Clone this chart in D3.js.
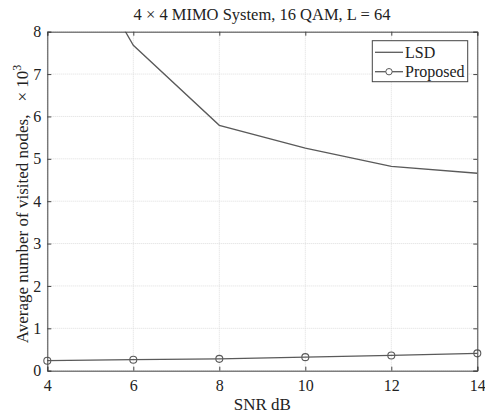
<!DOCTYPE html>
<html><head><meta charset="utf-8">
<script src="https://cdn.jsdelivr.net/npm/d3@7"></script>
<style>body{margin:0;background:#fff}svg{display:block}text{font-family:"Liberation Serif","Times New Roman",serif;fill:#222}</style>
</head><body><svg id="c" width="485" height="414"></svg>
<script>
const snr = [4, 6, 8, 10, 12, 14];
const lsd = [11.2, 7.68, 5.79, 5.25, 4.82, 4.66];
const proposed = [0.236, 0.26, 0.28, 0.32, 0.36, 0.41];
const xTicks = [4, 6, 8, 10, 12, 14];
const yTicks = [0, 1, 2, 3, 4, 5, 6, 7, 8];
const title = "4 \u00d7 4 MIMO System, 16 QAM, L = 64";
const xLabel = "SNR dB";
const yLabel = "Average number of visited nodes,";
const seriesNames = ["LSD", "Proposed"];

const svg = d3.select("#c");
const L = 47.3, R = 477.3, T = 31.7, B = 370.7;
const x = d3.scaleLinear().domain([4, 14]).range([L, R]);
const y = d3.scaleLinear().domain([0, 8]).range([B, T]);
const col = "#5a5a5a";

// grid
const g = svg.append("g");
g.selectAll(".gx").data(xTicks).join("line").attr("x1", d => x(d)).attr("x2", d => x(d))
  .attr("y1", T).attr("y2", B).attr("stroke", "#ddd").attr("stroke-width", 1).attr("stroke-dasharray", "1,1");
g.selectAll(".gy").data(yTicks).join("line").attr("y1", d => y(d)).attr("y2", d => y(d))
  .attr("x1", L).attr("x2", R).attr("stroke", "#ddd").attr("stroke-width", 1).attr("stroke-dasharray", "1,1");

// clip
svg.append("clipPath").attr("id", "clip").append("rect").attr("x", L).attr("y", T).attr("width", R - L).attr("height", B - T);

const line = d3.line().x((d, i) => x(snr[i])).y(d => y(d));
svg.append("path").datum(lsd).attr("d", line).attr("fill", "none").attr("stroke", col).attr("stroke-width", 1.3).attr("clip-path", "url(#clip)");
svg.append("path").datum(proposed).attr("d", line).attr("fill", "none").attr("stroke", col).attr("stroke-width", 1.3);
svg.selectAll(".pm").data(proposed).join("circle").attr("cx", (d, i) => x(snr[i])).attr("cy", d => y(d)).attr("r", 3.5)
  .attr("fill", "none").attr("stroke", col).attr("stroke-width", 1.1);

// axes
svg.append("g").attr("transform", `translate(0,${B})`).call(d3.axisBottom(x).tickValues(xTicks).tickSize(-4).tickPadding(9));
svg.append("g").attr("transform", `translate(${L},0)`).call(d3.axisLeft(y).tickValues(yTicks).tickSize(-4).tickPadding(6));
svg.append("g").attr("transform", `translate(0,${T})`).call(d3.axisTop(x).tickValues(xTicks).tickSize(-4).tickFormat(""));
svg.append("g").attr("transform", `translate(${R},0)`).call(d3.axisRight(y).tickValues(yTicks).tickSize(-4).tickFormat(""));
svg.selectAll(".domain").attr("stroke", "#444").attr("stroke-width", 1);
svg.selectAll(".tick line").attr("stroke", "#444");
svg.selectAll(".tick text").style("font-family", "Liberation Serif").style("font-size", "16px").attr("fill", "#333");

// title
svg.append("text").attr("x", 262).attr("y", 20).attr("text-anchor", "middle").style("font-size", "16.5px").text(title);
svg.append("text").attr("x", x(9)).attr("y", 410).attr("text-anchor", "middle").style("font-size", "17px").text(xLabel);
const yl = svg.append("text").attr("transform", `translate(28,204) rotate(-90)`).attr("text-anchor", "middle").style("font-size", "17px");
yl.append("tspan").text(yLabel);
yl.append("tspan").attr("dx", 13).text("\u00d7 10");
yl.append("tspan").attr("dy", -7).style("font-size", "12px").text("3");

// legend
const lg = svg.append("g");
lg.append("rect").attr("x", 372.3).attr("y", 40.7).attr("width", 95.4).attr("height", 41).attr("fill", "#fff").attr("stroke", "#444").attr("stroke-width", 1);
const rows = [52.3, 71.7];
rows.forEach((ry, i) => {
  lg.append("line").attr("x1", 375).attr("x2", 403).attr("y1", ry).attr("y2", ry).attr("stroke", col).attr("stroke-width", 1.3);
  if (i === 1) lg.append("circle").attr("cx", 389).attr("cy", ry).attr("r", 3.2).attr("fill", "#fff").attr("stroke", col);
  lg.append("text").attr("x", 405).attr("y", ry + 5.5).style("font-size", "16px").text(seriesNames[i]);
});
</script></body></html>
